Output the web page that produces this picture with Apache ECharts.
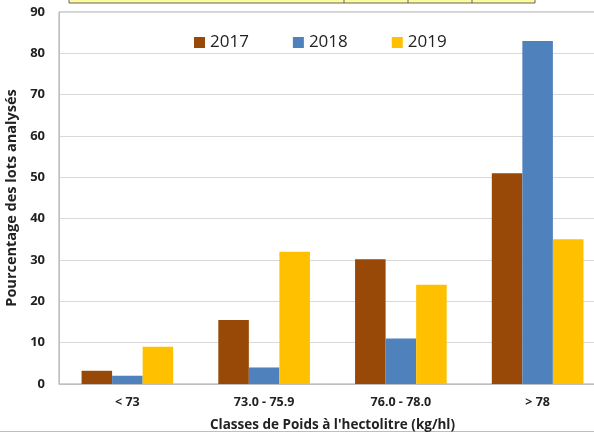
<!DOCTYPE html>
<html>
<head>
<meta charset="utf-8">
<script src="https://cdn.jsdelivr.net/npm/echarts@6/dist/echarts.min.js"></script>
<style>
  html, body { margin: 0; padding: 0; background: #fff; }
</style>
</head>
<body>
<div id="chart" style="width: 594px; height: 434px"></div>
<script>
const categories = ['< 73', '73.0 - 75.9', '76.0 - 78.0', '> 78'];
const years = ['2017', '2018', '2019'];
const values2017 = [3.2, 15.5, 30.2, 51];
const values2018 = [2, 4, 11, 83];
const values2019 = [9, 32, 24, 35];
const colors = ['#984807', '#4f81bd', '#ffc000'];

let chartDom = document.getElementById('chart');
let myChart = echarts.init(chartDom);
let font = 'Open Sans, Liberation Sans, sans-serif';

let option = {
  animation: false,
  backgroundColor: '#fff',
  textStyle: { fontFamily: font },
  // plot runs past the right edge (cropped in the original)
  grid: {
    left: 59, right: -12, top: 12, bottom: 50,
    outerBoundsMode: 'none',
    show: true, borderColor: '#a6a6a6', borderWidth: 1,
  },
  legend: {
    data: years,
    top: 29,
    left: 189,
    itemWidth: 11,
    itemHeight: 11,
    itemGap: 44,
    icon: 'rect',
    textStyle: { fontSize: 17, color: '#222', fontFamily: font },
  },
  xAxis: {
    type: 'category',
    data: categories,
    axisTick: { show: false },
    axisLine: { lineStyle: { color: '#bfbfbf' } },
    axisLabel: { fontSize: 12.5, fontWeight: 'bold', color: '#222', margin: 12 },
    name: "Classes de Poids à l'hectolitre (kg/hl)",
    nameLocation: 'middle',
    nameGap: 34,
    nameTextStyle: { fontSize: 13.5, fontWeight: 'bold', color: '#222' },
  },
  yAxis: {
    type: 'value',
    min: 0,
    max: 90,
    interval: 10,
    axisLine: { show: true, lineStyle: { color: '#bfbfbf' } },
    axisTick: { show: false },
    splitLine: { lineStyle: { color: '#d9d9d9' } },
    axisLabel: { fontSize: 13, fontWeight: 'bold', color: '#222', margin: 14 },
    name: 'Pourcentage des lots analysés',
    nameLocation: 'middle',
    nameGap: 40,
    nameMoveOverlap: false,
    nameTextStyle: { fontSize: 14.5, fontWeight: 'bold', color: '#222' },
  },
  series: [
    { name: years[0], type: 'bar', data: values2017, color: colors[0], barGap: '0%', barCategoryGap: '33%' },
    { name: years[1], type: 'bar', data: values2018, color: colors[1] },
    { name: years[2], type: 'bar', data: values2019, color: colors[2] },
  ],
  graphic: [
    { type: 'rect', shape: { x: 69, y: -2, width: 466, height: 5 }, style: { fill: '#fdf99c', stroke: '#666', lineWidth: 1 } },
    { type: 'line', shape: { x1: 344, y1: 0, x2: 344, y2: 3 }, style: { stroke: '#666' } },
    { type: 'line', shape: { x1: 408, y1: 0, x2: 408, y2: 3 }, style: { stroke: '#666' } },
    { type: 'line', shape: { x1: 472, y1: 0, x2: 472, y2: 3 }, style: { stroke: '#666' } },
    { type: 'line', shape: { x1: 0, y1: 431.5, x2: 594, y2: 431.5 }, style: { stroke: '#bfbfbf' } },
  ],
};

option && myChart.setOption(option);
</script>
</body>
</html>
